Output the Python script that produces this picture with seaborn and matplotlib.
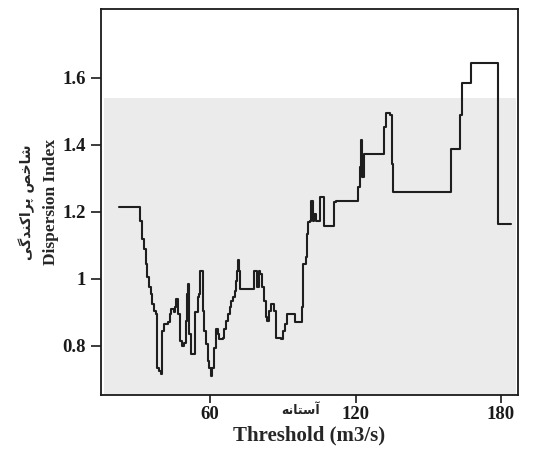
import numpy as np
import pandas as pd
import matplotlib.pyplot as plt
import seaborn as sns

# step curve (threshold, dispersion index)
threshold = [22.5, 31.0, 31.3, 32.0, 32.7, 33.4, 34.1, 34.8, 35.5, 36.2, 36.9, 37.7, 38.1, 38.8,
             39.8, 40.2, 40.9, 42.6, 43.3, 44.0, 45.0, 45.4, 46.1, 46.8, 47.6, 48.3, 49.3, 50.0,
             50.7, 51.1, 51.5, 52.2, 53.2, 53.9, 54.9, 55.3, 56.0, 56.7, 57.0, 57.7, 58.4, 59.2,
             59.6, 60.3, 61.0, 61.7, 62.4, 63.1, 63.8, 65.2, 65.9, 66.6, 67.4, 68.1, 68.8, 69.5,
             70.2, 70.6, 71.2, 71.6, 72.0, 72.3, 78.0, 78.2, 79.0, 79.4, 80.1, 80.8, 81.5, 82.2,
             82.9, 83.6, 84.3, 85.3, 86.4, 87.2, 89.3, 90.0, 91.0, 91.7, 94.2, 94.9, 97.5, 98.0,
             98.5, 99.5, 99.9, 100.3, 101.3, 101.7, 102.3, 103.0, 103.7, 104.8, 105.5, 106.5,
             107.2, 110.5, 111.2, 111.9, 120.4, 121.1, 121.7, 122.4, 122.8, 123.3, 131.1, 131.8,
             132.4, 134.1, 134.9, 135.4, 158.6, 159.2, 162.6, 163.2, 163.9, 167.0, 167.5, 178.0,
             178.6, 184.0]
dispersion = [1.213, 1.213, 1.173, 1.118, 1.089, 1.044, 1.004, 0.974, 0.954, 0.924, 0.904, 0.894,
              0.734, 0.724, 0.714, 0.844, 0.864, 0.869, 0.894, 0.909, 0.899, 0.914, 0.939, 0.894,
              0.814, 0.799, 0.809, 0.874, 0.954, 0.984, 0.834, 0.774, 0.774, 0.899, 0.944, 0.954,
              1.024, 1.024, 0.904, 0.844, 0.804, 0.754, 0.734, 0.709, 0.734, 0.794, 0.849, 0.834,
              0.819, 0.824, 0.849, 0.874, 0.894, 0.914, 0.934, 0.944, 0.964, 0.994, 1.024, 1.054,
              1.024, 0.969, 0.969, 1.024, 1.024, 0.974, 1.024, 1.014, 0.974, 0.934, 0.884, 0.874,
              0.904, 0.924, 0.904, 0.823, 0.819, 0.844, 0.864, 0.894, 0.894, 0.869, 0.869, 0.914,
              1.044, 1.064, 1.133, 1.168, 1.173, 1.233, 1.173, 1.193, 1.173, 1.173, 1.243, 1.243,
              1.158, 1.158, 1.228, 1.233, 1.233, 1.273, 1.333, 1.413, 1.303, 1.373, 1.373, 1.453,
              1.493, 1.488, 1.343, 1.258, 1.258, 1.388, 1.388, 1.488, 1.583, 1.583, 1.645, 1.645,
              1.163, 1.163]

xticks = [60, 120, 180]
yticks = [0.8, 1.0, 1.2, 1.4, 1.6]
ytick_labels = ["0.8", "1", "1.2", "1.4", "1.6"]
panel_top = 1.54

df = pd.DataFrame({"Threshold": threshold, "Dispersion": dispersion})

sns.set_theme(style="ticks")
plt.rcParams["font.family"] = ["Liberation Serif", "DejaVu Sans"]
plt.rcParams["font.weight"] = "bold"

# Persian labels written in visual order with presentation forms
fa_ylabel = "\ufbfd\ufb94\ufeaa\ufee8\ufb90\ufe8d\ufeae\ufb58 \ufeba\ufea7\ufe8e\ufeb7"
fa_xlabel = "\ufeea\ufee7\ufe8e\ufe98\ufeb3\ufe81"

fig = plt.figure(figsize=(5.34, 4.5), dpi=100)
ax = fig.add_axes([0.189, 0.122, 0.781, 0.858])

ax.set_xlim(15, 187)
ax.set_ylim(0.652, 1.805)
ax.axhspan(0.652, panel_top, xmin=0.008, xmax=0.995, color="#ebebeb", lw=0, zorder=0)

sns.lineplot(data=df, x="Threshold", y="Dispersion", drawstyle="steps-post",
             estimator=None, color="#1e1e1e", lw=1.5, ax=ax)

ax.set_xticks(xticks)
ax.set_xticklabels([str(t) for t in xticks])
ax.set_yticks(yticks)
ax.set_yticklabels(ytick_labels)
ax.tick_params(direction="out", length=7, width=1.2, labelsize=13.5, colors="#1a1a1a", pad=4)
ax.tick_params(axis="x", length=6, pad=2)
for lab in ax.get_xticklabels() + ax.get_yticklabels():
    lab.set_fontweight("bold")
for s in ax.spines.values():
    s.set_visible(True)
    s.set_linewidth(1.3)
    s.set_color("#1a1a1a")

ax.set_xlabel("Threshold (m3/s)", fontsize=15, fontweight="bold", labelpad=1.5)
ax.set_ylabel("Dispersion Index", fontsize=12.5, fontweight="bold", labelpad=2)
ax.text(-0.178, 0.5, fa_ylabel, transform=ax.transAxes, rotation=90, fontsize=10,
        family=["DejaVu Sans"], ha="center", va="center")
ax.text(97.5, -0.04, fa_xlabel, transform=ax.get_xaxis_transform(), fontsize=9,
        family=["DejaVu Sans"], ha="center", va="center")

fig.savefig("out.png", dpi=100)
